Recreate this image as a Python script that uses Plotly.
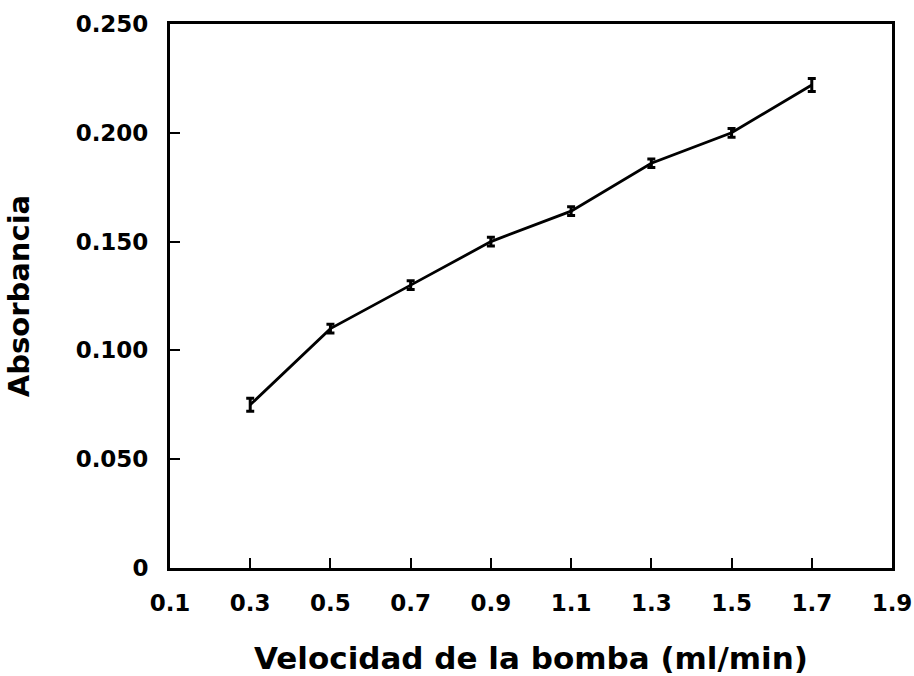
import plotly.graph_objects as go

velocidad = [0.3, 0.5, 0.7, 0.9, 1.1, 1.3, 1.5, 1.7]
absorbancia = [0.075, 0.110, 0.130, 0.150, 0.164, 0.186, 0.200, 0.222]
error = [0.003, 0.002, 0.002, 0.002, 0.002, 0.002, 0.002, 0.003]

x_ticks = [0.1, 0.3, 0.5, 0.7, 0.9, 1.1, 1.3, 1.5, 1.7, 1.9]
x_ticktext = ["0.1", "0.3", "0.5", "0.7", "0.9", "1.1", "1.3", "1.5", "1.7", "1.9"]
y_ticks = [0, 0.05, 0.10, 0.15, 0.20, 0.25]
y_ticktext = ["0", "0.050", "0.100", "0.150", "0.200", "0.250"]

fig = go.Figure()
fig.add_trace(go.Scatter(
    x=velocidad, y=absorbancia, mode="lines",
    line=dict(color="black", width=2.8),
    error_y=dict(type="data", array=error, visible=True, color="black",
                 thickness=3, width=4),
    showlegend=False,
))

tickfont = dict(family="DejaVu Sans", size=23, color="black", weight="bold")

fig.update_layout(
    template="none",
    width=914, height=676,
    margin=dict(l=170, r=22, t=24, b=108),
    paper_bgcolor="white", plot_bgcolor="white",
    xaxis=dict(
        automargin=False,
        range=[0.1, 1.9], tickvals=x_ticks, ticktext=x_ticktext,
        ticks="inside", ticklen=10, tickwidth=2, tickcolor="black",
        showline=True, linecolor="black", linewidth=3, mirror=True,
        showgrid=False, zeroline=False, tickfont=tickfont,
        ticklabelstandoff=12, ticklabeloverflow="allow",
        title=dict(text="Velocidad de la bomba (ml/min)",
                   font=dict(family="DejaVu Sans", size=31, color="black", weight="bold"),
                   standoff=40),
    ),
    yaxis=dict(
        automargin=False,
        range=[0, 0.25], tickvals=y_ticks, ticktext=y_ticktext,
        ticks="inside", ticklen=10, tickwidth=2, tickcolor="black",
        showline=True, linecolor="black", linewidth=3, mirror=True,
        showgrid=False, zeroline=False, tickfont=tickfont,
        ticklabelstandoff=14, ticklabeloverflow="allow",
        title=dict(text="Absorbancia",
                   font=dict(family="DejaVu Sans", size=29, color="black", weight="bold"),
                   standoff=38),
    ),
)

fig.write_html("out.html", config={"displayModeBar": False},
               post_script="document.body.style.margin='0';")
